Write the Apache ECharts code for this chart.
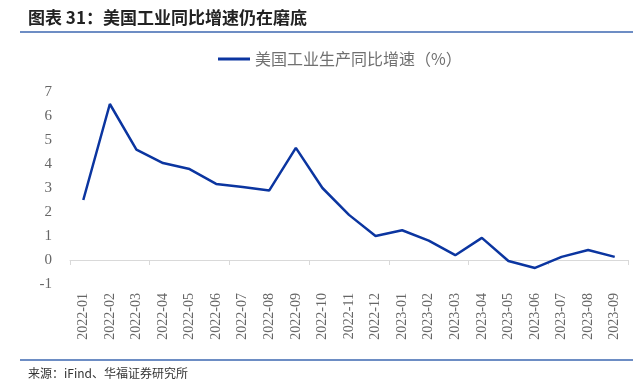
<!DOCTYPE html>
<html><head><meta charset="utf-8">
<script src="https://cdn.jsdelivr.net/npm/echarts@6/dist/echarts.min.js"></script>
<style>html,body{margin:0;padding:0;background:#fff}#c{width:633px;height:387px}</style>
</head><body><div id="c"></div>
<script>
const categories = ['2022-01','2022-02','2022-03','2022-04','2022-05','2022-06','2022-07','2022-08','2022-09','2022-10','2022-11','2022-12','2023-01','2023-02','2023-03','2023-04','2023-05','2023-06','2023-07','2023-08','2023-09'];
const ipYoY = [2.5,6.5,4.6,4.04,3.79,3.17,3.04,2.9,4.67,3.0,1.88,1.0,1.24,0.81,0.2,0.92,-0.04,-0.33,0.13,0.42,0.13];
const seriesName = '美国工业生产同比增速（%）';
const yTicks = { min: -1, max: 7, interval: 1 };

const chart = echarts.init(document.getElementById('c'), null, {renderer:'canvas'});
const serif = '"Liberation Serif","DejaVu Serif",serif';
chart.setOption({
  animation: false,
  backgroundColor: '#fff',
  title: {
    text: '图表 31：美国工业同比增速仍在磨底',
    left: 28, top: 9, padding: 0,
    textStyle: { fontFamily: '"Noto Sans CJK SC"', fontSize: 17, fontWeight: 'bold', color: '#222' }
  },
  legend: {
    top: 51, left: 218, padding: 0,
    itemWidth: 32, itemHeight: 3, itemGap: 5,
    icon: 'rect',
    textStyle: { fontFamily: '"Noto Sans CJK SC"', fontSize: 16, color: '#707070' },
    data: [seriesName]
  },
  graphic: [
    { type: 'line', shape: { x1: 20, y1: 32, x2: 633, y2: 32 }, style: { stroke: '#3d67b0', lineWidth: 1.5 } },
    { type: 'line', shape: { x1: 20, y1: 360, x2: 633, y2: 360 }, style: { stroke: '#3d67b0', lineWidth: 1.5 } },
    { type: 'text', left: 28, top: 367, style: { text: '来源：iFind、华福证券研究所', fontFamily: '"Noto Sans CJK SC"', fontSize: 12, fill: '#333' } }
  ],
  grid: { left: 70, right: 5, top: 92, bottom: 103, containLabel: false },
  xAxis: [
    {
      type: 'category', data: categories, boundaryGap: true,
      axisLine: { onZero: true, lineStyle: { color: '#d9d9d9', width: 1 } },
      axisTick: { show: true, length: 5, lineStyle: { color: '#d9d9d9' } },
      axisLabel: { show: false }
    },
    {
      type: 'category', data: categories, boundaryGap: true, position: 'bottom',
      axisLine: { show: false, onZero: false }, axisTick: { show: false },
      axisLabel: { rotate: 90, margin: 9, fontFamily: serif, fontSize: 14, color: '#666' }
    }
  ],
  yAxis: {
    type: 'value', min: yTicks.min, max: yTicks.max, interval: yTicks.interval,
    axisLine: { show: false }, axisTick: { show: false }, splitLine: { show: false },
    axisLabel: { margin: 18, fontFamily: serif, fontSize: 15, color: '#666' }
  },
  series: [{
    name: seriesName, type: 'line', data: ipYoY, xAxisIndex: 0,
    symbol: 'none', lineStyle: { color: '#0b35a0', width: 2.5 }, itemStyle: { color: '#0b35a0' }
  }]
});
</script></body></html>
